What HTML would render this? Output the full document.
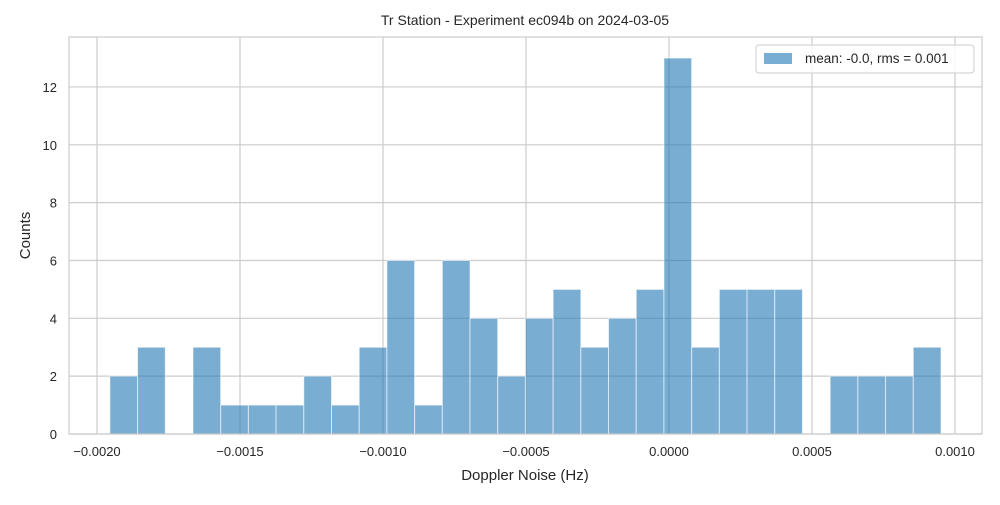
<!DOCTYPE html>
<html><head><meta charset="utf-8"><style>
body{margin:0;background:#fff;font-family:"Liberation Sans","DejaVu Sans",sans-serif}
</style></head><body>
<svg id="chart" width="1000" height="500" xmlns="http://www.w3.org/2000/svg">
<text x="525" y="25" text-anchor="middle" font-size="14" fill="#262626">Tr Station - Experiment ec094b on 2024-03-05</text>
<g id="grid"></g><g id="bars"></g><g id="ticks"></g>
<rect x="69" y="37" width="913" height="397" fill="none" stroke="#cccccc" stroke-width="1.2"/>
<text x="525" y="480" text-anchor="middle" font-size="15" fill="#262626">Doppler Noise (Hz)</text>
<text transform="translate(30,235.5) rotate(-90)" text-anchor="middle" font-size="15" fill="#262626">Counts</text>
<g>
<rect x="756" y="45" width="218" height="28" rx="3" fill="#fff" fill-opacity="0.8" stroke="#cccccc"/>
<rect x="764" y="53" width="28" height="11" fill="#78aed3"/>
<text x="805" y="63" font-size="13.5" fill="#262626">mean: -0.0, rms = 0.001</text>
</g>
</svg>
<script>
const counts=[2,3,0,3,1,1,1,2,1,3,6,1,6,4,2,4,5,3,4,5,13,3,5,5,5,0,2,2,2,3];
const binStart=-0.001955, binEnd=0.000951;
const xTicks=[-0.002,-0.0015,-0.001,-0.0005,0,0.0005,0.001];
const xTickLabels=["−0.0020","−0.0015","−0.0010","−0.0005","0.0000","0.0005","0.0010"];
const yTicks=[0,2,4,6,8,10,12];
const NS="http://www.w3.org/2000/svg";
const X=v=>97+(v+0.002)*286000;
const Y=v=>434-v*28.92;
function mk(t,a,p){const e=document.createElementNS(NS,t);for(const k in a)e.setAttribute(k,a[k]);p.appendChild(e);return e;}
const g=document.getElementById('grid'),b=document.getElementById('bars'),tk=document.getElementById('ticks');
xTicks.forEach((v,i)=>{
 const l=mk('line',{x1:X(v),x2:X(v),y1:37,y2:434,stroke:'#cccccc','stroke-width':1.2},g);
 
 
 const t=mk('text',{x:X(v),y:456,'text-anchor':'middle','font-size':13,fill:'#262626'},tk);
 t.textContent=xTickLabels[i];
 
 
});
yTicks.forEach(v=>{
 const l=mk('line',{x1:69,x2:982,y1:Y(v),y2:Y(v),stroke:'#cccccc','stroke-width':1.2},g);
 
 
 const t=mk('text',{x:57,y:Y(v)+5,'text-anchor':'end','font-size':13,fill:'#262626'},tk);
 t.textContent=v;
 
 
});
const w=(binEnd-binStart)/counts.length;
counts.forEach((c,i)=>{
 if(!c)return;
 const x0=X(binStart+i*w),x1=X(binStart+(i+1)*w);
 const r=mk('rect',{x:x0,y:Y(c),width:x1-x0,height:434-Y(c),fill:'#1f77b4','fill-opacity':0.6,stroke:'#ffffff','stroke-opacity':0.6,'stroke-width':1},b);
 
 
});
</script>
</body></html>
